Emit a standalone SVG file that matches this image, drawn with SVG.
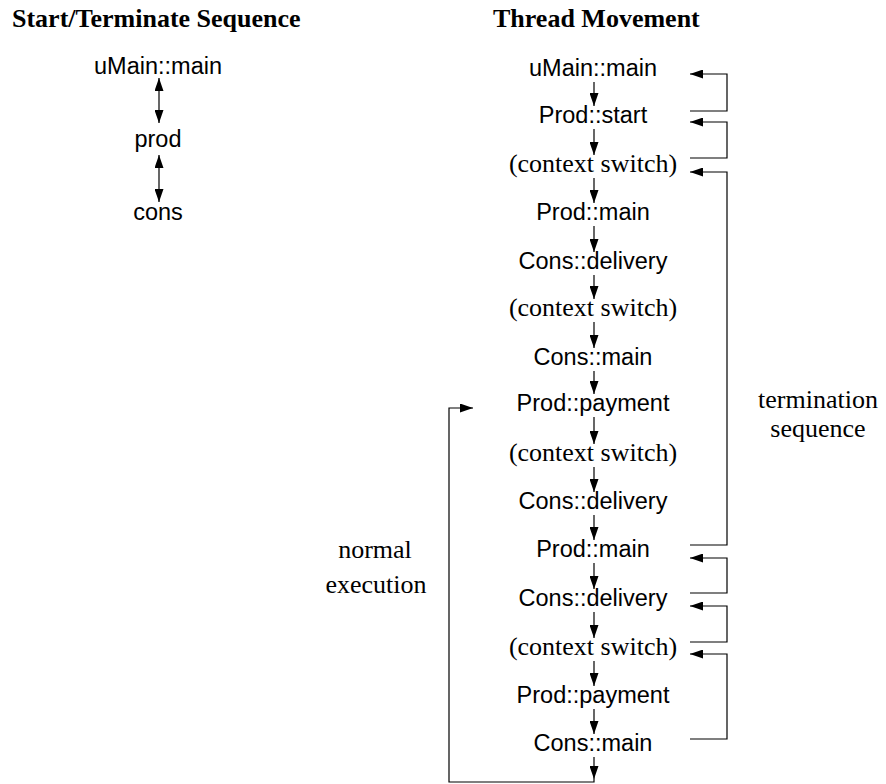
<svg xmlns="http://www.w3.org/2000/svg" width="886" height="784" viewBox="0 0 886 784">
<style>
.title{font-family:"Liberation Serif",serif;font-weight:bold;font-size:26px;fill:#000}
.sans{font-family:"Liberation Sans",Arial,sans-serif;font-size:23.5px;fill:#000;text-anchor:middle}
.serif{font-family:"Liberation Serif",serif;font-size:26px;fill:#000;text-anchor:middle}
.ln{stroke:#000;stroke-width:1.2;fill:none}
</style>
<defs>
<marker id="ah" viewBox="0 0 13 9" refX="13" refY="4.5" markerWidth="13" markerHeight="9" markerUnits="userSpaceOnUse" orient="auto-start-reverse">
<path d="M0,0 L13,4.5 L0,9 Z" fill="#000"/>
</marker>
</defs>
<g id="titles">
<text class="title" x="12" y="27">Start/Terminate Sequence</text>
<text class="title" x="493" y="27">Thread Movement</text>
</g>
<g id="left-umain"><text class="sans" x="158" y="74">uMain::main</text></g>
<g id="left-prod"><text class="sans" x="158" y="147">prod</text></g>
<g id="left-cons"><text class="sans" x="158" y="220">cons</text></g>
<g id="r1"><text class="sans" x="593" y="76">uMain::main</text></g>
<g id="r2"><text class="sans" x="593" y="123">Prod::start</text></g>
<g id="r3"><text class="serif" x="593" y="172">(context switch)</text></g>
<g id="r4"><text class="sans" x="593" y="220">Prod::main</text></g>
<g id="r5"><text class="sans" x="593" y="269">Cons::delivery</text></g>
<g id="r6"><text class="serif" x="593" y="316">(context switch)</text></g>
<g id="r7"><text class="sans" x="593" y="365">Cons::main</text></g>
<g id="r8"><text class="sans" x="593" y="411">Prod::payment</text></g>
<g id="r9"><text class="serif" x="593" y="461">(context switch)</text></g>
<g id="r10"><text class="sans" x="593" y="509">Cons::delivery</text></g>
<g id="r11"><text class="sans" x="593" y="557">Prod::main</text></g>
<g id="r12"><text class="sans" x="593" y="606">Cons::delivery</text></g>
<g id="r13"><text class="serif" x="593" y="655">(context switch)</text></g>
<g id="r14"><text class="sans" x="593" y="703">Prod::payment</text></g>
<g id="r15"><text class="sans" x="593" y="751">Cons::main</text></g>
<g id="label-termination">
<text class="serif" x="818" y="408">termination</text>
<text class="serif" x="818" y="437">sequence</text>
</g>
<g id="label-normal">
<text class="serif" x="375" y="558">normal</text>
<text class="serif" x="376" y="593">execution</text>
</g>
<g id="connectors">
<line class="ln" x1="159" y1="78" x2="159" y2="123" marker-start="url(#ah)" marker-end="url(#ah)"/>
<line class="ln" x1="159" y1="155" x2="159" y2="202" marker-start="url(#ah)" marker-end="url(#ah)"/>
<line class="ln" x1="594" y1="82" x2="594" y2="106" marker-end="url(#ah)"/>
<line class="ln" x1="594" y1="129" x2="594" y2="155" marker-end="url(#ah)"/>
<line class="ln" x1="594" y1="178" x2="594" y2="203" marker-end="url(#ah)"/>
<line class="ln" x1="594" y1="226" x2="594" y2="252" marker-end="url(#ah)"/>
<line class="ln" x1="594" y1="275" x2="594" y2="299" marker-end="url(#ah)"/>
<line class="ln" x1="594" y1="322" x2="594" y2="348" marker-end="url(#ah)"/>
<line class="ln" x1="594" y1="371" x2="594" y2="394" marker-end="url(#ah)"/>
<line class="ln" x1="594" y1="417" x2="594" y2="444" marker-end="url(#ah)"/>
<line class="ln" x1="594" y1="467" x2="594" y2="492" marker-end="url(#ah)"/>
<line class="ln" x1="594" y1="515" x2="594" y2="540" marker-end="url(#ah)"/>
<line class="ln" x1="594" y1="563" x2="594" y2="589" marker-end="url(#ah)"/>
<line class="ln" x1="594" y1="612" x2="594" y2="638" marker-end="url(#ah)"/>
<line class="ln" x1="594" y1="661" x2="594" y2="686" marker-end="url(#ah)"/>
<line class="ln" x1="594" y1="709" x2="594" y2="734" marker-end="url(#ah)"/>
<line class="ln" x1="594" y1="757" x2="594" y2="779" marker-end="url(#ah)"/>
<polyline class="ln" points="594,779 594,782 449,782 449,408 473,408" marker-end="url(#ah)"/>
<polyline class="ln" points="690,111 727,111 727,74 690,74" marker-end="url(#ah)"/>
<polyline class="ln" points="690,158 727,158 727,122 690,122" marker-end="url(#ah)"/>
<polyline class="ln" points="690,545 727,545 727,172 690,172" marker-end="url(#ah)"/>
<polyline class="ln" points="690,593 727,593 727,558 690,558" marker-end="url(#ah)"/>
<polyline class="ln" points="690,642 727,642 727,606 690,606" marker-end="url(#ah)"/>
<polyline class="ln" points="690,739 727,739 727,654 690,654" marker-end="url(#ah)"/>
</g>
</svg>
